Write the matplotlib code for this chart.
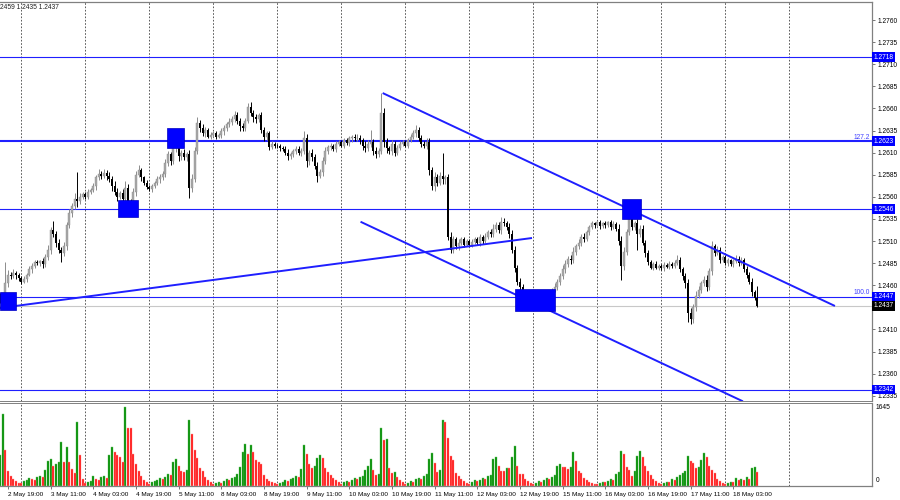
import numpy as np
import matplotlib.pyplot as plt
from matplotlib.patches import Rectangle
from matplotlib.transforms import blended_transform_factory

plt.rcParams['font.family'] = ['Liberation Sans', 'DejaVu Sans']

# H1 bars, bar 0 = 2 May 19:00; values in pips above 1.2400
first_bar = -3
first_open = 48
close_rows = [
    [44, 38, 62, 72, 70, 74, 71, 68],                                   # 2 May
    [64, 67, 72, 78, 82, 86, 85, 87, 84, 92, 100, 122, 118, 108, 100, 96,
     104, 128, 142, 150, 158, 155, 160, 163],                           # 3 May
    [160, 166, 168, 172, 182, 186, 184, 187, 183, 180, 172, 166, 160, 164,
     158, 170, 155, 150, 165, 185, 190, 182, 176, 171],                 # 4 May
    [169, 172, 176, 180, 182, 186, 198, 208, 200, 215, 222, 206, 210, 205,
     208, 170, 180, 212, 244, 238, 232, 236, 228, 230],                 # 5 May
    [232, 228, 230, 234, 238, 242, 245, 248, 252, 246, 240, 238, 246, 262,
     255, 250, 248, 252, 236, 228, 232, 216, 220, 218],                 # 8 May
    [217, 215, 214, 210, 206, 208, 212, 214, 210, 212, 226, 200, 210, 205,
     195, 184, 188, 200, 212, 216, 218, 214, 220, 222],                 # 9 May
    [218, 224, 221, 226, 228, 226, 227, 224, 218, 215, 220, 222, 212, 208,
     212, 255, 222, 215, 212, 220, 210, 215, 220, 222],                 # 10 May
    [218, 224, 228, 232, 236, 226, 220, 218, 222, 190, 172, 182, 176, 184,
     180, 182, 115, 100, 112, 104, 108, 112, 106, 110],                 # 11 May
    [106, 109, 112, 108, 114, 110, 115, 120, 118, 124, 128, 122, 132, 130,
     126, 118, 100, 80, 64, 58, 52, 48, 50, 45],                        # 12 May
    [47, 44, 49, 42, 47, 45, 50, 54, 58, 64, 70, 78, 84, 90, 88, 98, 104,
     108, 115, 112, 120, 126, 130, 128],                                # 15 May
    [131, 127, 130, 128, 131, 126, 129, 124, 110, 82, 98, 120, 138, 126,
     130, 118, 124, 108, 96, 86, 80, 84, 80, 82],                       # 16 May
    [79, 83, 81, 84, 82, 85, 88, 78, 70, 62, 28, 22, 35, 48, 55, 62, 66,
     58, 76, 104, 96, 100, 88, 92],                                     # 17 May
    [85, 88, 84, 87, 90, 85, 88, 78, 72, 64, 52, 46, 37],               # 18 May
]
up_rows = [
    [3, 4, 24, 5, 3, 4, 2, 3],
    [2, 3, 2, 4, 3, 2, 3, 2, 4, 3, 5, 4, 11, 3, 4, 3, 5, 3, 4, 3, 6, 30, 4, 2],
    [2, 3, 2, 4, 3, 5, 3, 4, 3, 5, 4, 6, 4, 3, 5, 8, 4, 3, 5, 4, 6, 3, 2, 3],
    [2, 3, 2, 3, 4, 3, 5, 4, 3, 5, 11, 4, 3, 4, 3, 5, 6, 4, 6, 3, 4, 3, 2, 3],
    [2, 3, 2, 4, 3, 3, 4, 3, 5, 4, 3, 4, 3, 4, 5, 3, 4, 3, 4, 3, 3, 2, 3, 2],
    [2, 3, 2, 3, 4, 3, 2, 4, 3, 3, 8, 5, 3, 4, 3, 4, 3, 5, 4, 3, 3, 2, 3, 2],
    [2, 3, 2, 3, 2, 3, 4, 3, 3, 5, 4, 14, 3, 4, 3, 22, 5, 4, 3, 4, 3, 4, 3, 2],
    [2, 3, 3, 4, 5, 3, 4, 3, 4, 5, 4, 6, 4, 4, 26, 3, 4, 5, 4, 3, 4, 3, 3, 2],
    [2, 3, 2, 3, 4, 3, 4, 3, 4, 5, 4, 3, 5, 4, 3, 4, 5, 4, 3, 4, 3, 2, 3, 2],
    [2, 3, 2, 3, 4, 3, 2, 3, 4, 3, 4, 5, 4, 3, 4, 5, 3, 4, 3, 4, 3, 2, 3, 2],
    [2, 3, 2, 3, 2, 3, 4, 3, 5, 6, 5, 4, 10, 4, 3, 5, 4, 4, 3, 4, 3, 2, 3, 2],
    [2, 3, 2, 3, 2, 3, 6, 4, 3, 4, 5, 6, 4, 5, 4, 3, 4, 5, 4, 6, 3, 4, 3, 2],
    [2, 3, 2, 3, 4, 3, 4, 3, 4, 3, 4, 3, 13],
]
dn_rows = [
    [4, 5, 3, 4, 3, 2, 4, 3],
    [3, 2, 3, 2, 4, 3, 2, 3, 4, 3, 4, 5, 4, 5, 4, 10, 3, 4, 3, 5, 4, 6, 3, 2],
    [3, 2, 3, 2, 4, 3, 4, 3, 4, 3, 5, 4, 5, 3, 4, 6, 5, 4, 3, 4, 3, 4, 3, 2],
    [2, 3, 2, 3, 4, 3, 4, 3, 4, 3, 4, 5, 4, 3, 4, 11, 4, 3, 4, 5, 3, 4, 2, 3],
    [2, 3, 2, 3, 4, 3, 3, 4, 3, 4, 5, 3, 4, 3, 4, 5, 4, 3, 4, 5, 4, 3, 2, 3],
    [2, 3, 2, 3, 4, 3, 3, 4, 3, 4, 3, 6, 4, 5, 4, 7, 3, 4, 3, 4, 3, 2, 3, 2],
    [2, 3, 2, 3, 4, 3, 3, 4, 5, 4, 3, 4, 5, 4, 3, 4, 6, 5, 4, 5, 4, 3, 2, 3],
    [2, 3, 2, 3, 4, 3, 4, 3, 4, 5, 4, 5, 4, 3, 5, 6, 4, 3, 4, 3, 4, 3, 3, 2],
    [2, 3, 2, 3, 4, 3, 2, 3, 4, 3, 4, 3, 4, 3, 4, 5, 4, 5, 4, 3, 4, 3, 4, 3],
    [3, 4, 3, 4, 4, 3, 4, 3, 2, 3, 4, 3, 4, 3, 4, 3, 4, 3, 4, 3, 2, 3, 2, 3],
    [2, 3, 2, 3, 2, 3, 2, 3, 5, 16, 5, 4, 3, 4, 3, 18, 4, 3, 4, 3, 2, 3, 2, 3],
    [2, 3, 2, 3, 2, 3, 2, 3, 4, 5, 10, 6, 5, 4, 3, 4, 3, 4, 3, 4, 3, 2, 3, 2],
    [2, 3, 2, 3, 2, 3, 2, 3, 4, 3, 4, 3, 2],
]
vol_rows = [
    [641, 1495, 748, 320, 214, 150, 107, 60],
    [60, 110, 120, 170, 150, 135, 180, 200, 180, 342, 513, 555, 427, 449, 491,
     919, 491, 812, 491, 363, 278, 1325, 641, 150],
    [60, 90, 110, 214, 150, 130, 180, 200, 170, 641, 812, 705, 641, 598, 491,
     1645, 1218, 1210, 662, 449, 320, 200, 120, 80],
    [50, 80, 100, 130, 160, 140, 180, 250, 230, 491, 555, 427, 320, 299, 342,
     1367, 1090, 748, 577, 385, 320, 180, 120, 80],
    [40, 60, 80, 70, 100, 140, 120, 160, 180, 256, 406, 705, 876, 662, 855,
     705, 534, 491, 449, 235, 150, 110, 90, 60],
    [50, 70, 90, 120, 100, 150, 170, 200, 180, 363, 855, 662, 449, 385, 427,
     577, 641, 577, 385, 299, 235, 160, 120, 80],
    [50, 80, 100, 90, 130, 160, 140, 190, 210, 342, 427, 555, 342, 235, 256,
     1218, 962, 983, 385, 278, 290, 180, 120, 80],
    [50, 70, 100, 90, 140, 170, 150, 200, 240, 555, 684, 470, 299, 342, 1367,
     1325, 1004, 620, 534, 278, 214, 140, 100, 70],
    [50, 80, 120, 100, 130, 170, 150, 200, 230, 555, 598, 427, 320, 310, 385,
     370, 598, 833, 427, 256, 250, 150, 100, 60],
    [40, 70, 100, 90, 120, 160, 140, 180, 220, 427, 449, 406, 400, 363, 406,
     705, 513, 320, 278, 171, 130, 90, 70, 50],
    [40, 60, 90, 80, 110, 150, 130, 250, 300, 726, 662, 406, 342, 214, 320,
     620, 726, 598, 427, 320, 235, 150, 100, 70],
    [40, 60, 90, 80, 150, 130, 180, 230, 280, 320, 620, 513, 470, 385, 395,
     534, 684, 598, 427, 342, 278, 150, 100, 70],
    [40, 60, 90, 80, 171, 120, 140, 130, 180, 150, 385, 395, 299],
]

time_labels = ['2 May 19:00', '3 May 11:00', '4 May 03:00', '4 May 19:00',
               '5 May 11:00', '8 May 03:00', '8 May 19:00', '9 May 11:00',
               '10 May 03:00', '10 May 19:00', '11 May 11:00', '12 May 03:00',
               '12 May 19:00', '15 May 11:00', '16 May 03:00', '16 May 19:00',
               '17 May 11:00', '18 May 03:00']
label_step = 16
day_starts = [5 + 24 * k for k in range(13)]

levels = [1.2718, 1.2623, 1.2546, 1.2447, 1.2342]
bid = 1.2437
fibo = [(1.2623, '127.2'), (1.2447, '100.0')]
# (bar, price) end points
trend_lines = [((-3, 1.24342), (196.5, 1.25134)),
               ((140.5, 1.26774), (310.1, 1.24365)),
               ((132.2, 1.25318), (275.6, 1.23286))]
# bar from, bar to, price low, price high
boxes = [(-3.0, 3.0, 1.24319, 1.24523),
         (41.25, 48.75, 1.25371, 1.25564),
         (59.5, 66.1, 1.26149, 1.26375),
         (190.1, 205.1, 1.24312, 1.24554),
         (230.1, 237.2, 1.25349, 1.25575)]
vol_max = 1645

pip = 0.0001
c = 1.24 + np.array(sum(close_rows, [])) * pip
o = np.concatenate([[1.24 + first_open * pip], c[:-1]])
h = np.maximum(o, c) + np.array(sum(up_rows, [])) * pip
l = np.minimum(o, c) - np.array(sum(dn_rows, [])) * pip
v = np.array(sum(vol_rows, []))
x = np.arange(first_bar, first_bar + len(c))

fig = plt.figure(figsize=(9, 5), dpi=100)
ax = fig.add_axes([0, 0.198, 0.9689, 0.798])
axv = fig.add_axes([0, 0.028, 0.9689, 0.166])
xlim = (-3.0, 324.0)
blue = '#1f1fff'
fs = 4.8

# candles
up = c >= o
ax.vlines(x[up], l[up], h[up], color='#8c8c8c', lw=0.7, zorder=3)
ax.vlines(x[~up], l[~up], h[~up], color='black', lw=0.7, zorder=3)
body = np.maximum(np.abs(c - o), 0.00004)
ax.bar(x[up], body[up], bottom=np.minimum(o, c)[up], width=0.7,
       color='#a9a9a9', edgecolor='#8c8c8c', lw=0.3, zorder=4)
ax.bar(x[~up], body[~up], bottom=np.minimum(o, c)[~up], width=0.7,
       color='black', lw=0, zorder=4)

# levels, bid, trendlines, boxes
for lv in levels:
    ax.axhline(lv, color=blue, lw=1.5 if lv == 1.2623 else 0.8, zorder=2)
ax.axhline(bid, color='#c8c8c8', lw=0.8, zorder=1)
for (x0, y0), (x1, y1) in trend_lines:
    ax.plot([x0, x1], [y0, y1], color=blue, lw=1.4, zorder=5,
            solid_capstyle='butt')
for x0, x1, y0, y1 in boxes:
    ax.add_patch(Rectangle((x0, y0), x1 - x0, y1 - y0, fc='#0000ff',
                           ec='#0000c0', lw=0.5, zorder=6))

trans = blended_transform_factory(ax.transAxes, ax.transData)
for lv, txt in fibo:
    ax.text(0.9975, lv + 0.00003, txt, transform=trans, ha='right',
            va='bottom', fontsize=fs, color='#4040ff')


def price_fmt(val, pos):
    # the bid box covers this one label on the scale
    if abs(val - 1.2435) < 1e-6:
        return ''
    return f'{val:.4f}'


# right price scale
ax.set_xlim(*xlim)
ax.set_ylim(1.23290, 1.27804)
ax.yaxis.tick_right()
ax.set_yticks(np.arange(1.2335, 1.27601, 0.0025))
ax.yaxis.set_major_formatter(plt.FuncFormatter(price_fmt))
ax.tick_params(axis='y', direction='out', length=2.5, width=0.6,
               pad=1.5, labelsize=fs, color='#606060')
ax.set_xticks([])
for lv in levels:
    ax.text(1.0015, lv, f'{lv:.4f}', transform=trans, ha='left',
            va='center', fontsize=fs, color='white', zorder=10,
            clip_on=False,
            bbox=dict(boxstyle='square,pad=0.22', fc='#0000ff', ec='none'))
ax.text(1.0015, bid, f'{bid:.4f}', transform=trans, ha='left', va='center',
        fontsize=fs, color='white', zorder=10, clip_on=False,
        bbox=dict(boxstyle='square,pad=0.22', fc='black', ec='none'))

# volumes, green when volume grows
grow = np.concatenate([[True], v[1:] > v[:-1]])
axv.bar(x[grow], v[grow], width=0.75, color='#008c00',
        edgecolor='#66c266', lw=0.3)
axv.bar(x[~grow], v[~grow], width=0.75, color='#ff1010',
        edgecolor='#ff9a9a', lw=0.3)
axv.set_xlim(*xlim)
axv.set_ylim(0, vol_max * 82 / 78)
axv.set_yticks([])
axv.text(1.004, vol_max, str(vol_max), transform=blended_transform_factory(
    axv.transAxes, axv.transData), ha='left', va='center', fontsize=fs)
axv.text(1.004, 0.02, '0', transform=axv.transAxes, ha='left',
         va='bottom', fontsize=fs)
tick_pos = [label_step * k for k in range(len(time_labels))]
axv.set_xticks(tick_pos)
axv.set_xticklabels(time_labels, ha='left')
axv.tick_params(axis='x', direction='out', length=2.5, width=0.6, pad=1.5,
                labelsize=4.6, color='#606060')

for a in (ax, axv):
    for d in day_starts:
        a.axvline(d, color='#404040', lw=0.6, ls=(0, (2, 2)), zorder=0)
    a.spines['left'].set_visible(False)
    for s in ('top', 'right', 'bottom'):
        a.spines[s].set_color('#808080')
        a.spines[s].set_linewidth(0.9)
    a.set_facecolor('white')
ax.spines['bottom'].set_linewidth(0.7)
axv.spines['top'].set_linewidth(0.7)

fig.text(0.0, 0.992, '2459 1.2435 1.2437', fontsize=fs, va='top',
         ha='left', color='#202020')

plt.savefig('out.png', dpi=100)
